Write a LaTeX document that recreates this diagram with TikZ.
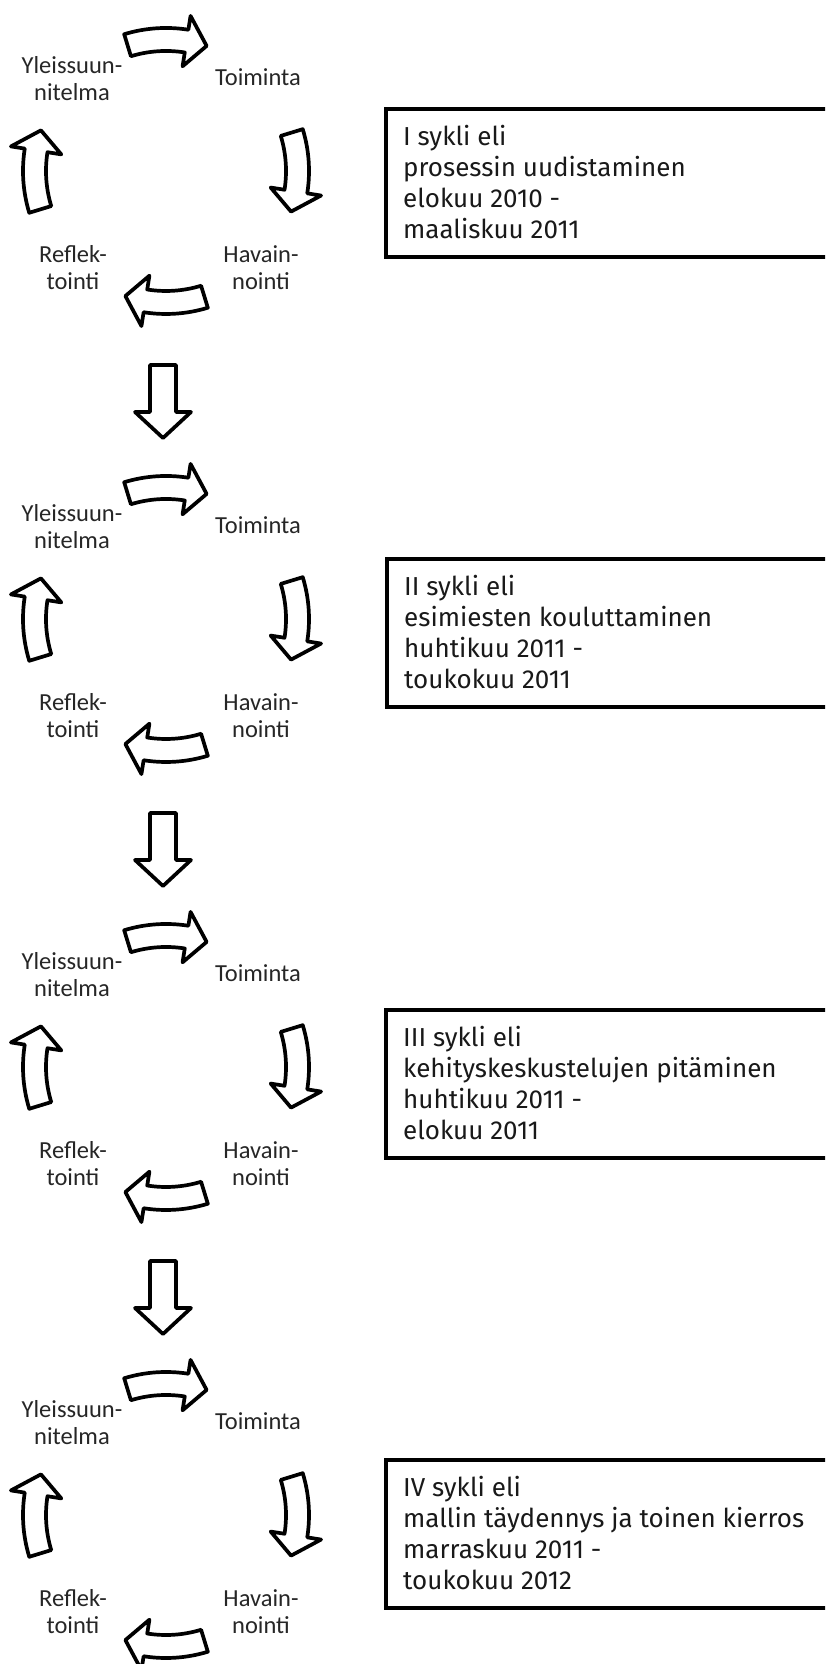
\documentclass[tikz,border=0pt]{standalone}
\usepackage{fontspec}
\setmainfont{Carlito}
\newfontfamily\boxfont{Fira Sans}
\begin{document}
\begin{tikzpicture}[x=1pt,y=1pt,
  blockline/.style={draw=black, line width=3.7pt, fill=white, line join=round},
  phase/.style={align=center, inner sep=0pt, text=black!85,
    font=\fontsize{24.5}{27}\selectfont},
  cyclebox/.style={draw=black, line width=3.7pt, fill=white, inner sep=0pt,
    minimum width=470pt, minimum height=148pt, anchor=north west},
  boxtext/.style={align=left, inner sep=0pt, anchor=base west, text=black!90,
    font=\boxfont\fontsize{26}{31}\selectfont},
  cyclearrow/.pic={
    \draw[blockline] (107:120) arc[start angle=107, end angle=81, radius=120]
      -- (81:106) -- (72:131.5) -- (81:157) -- (81:143)
      arc[start angle=81, end angle=107, radius=143] -- cycle;
  }
]
\path[use as bounding box, clip] (0,0) rectangle (825,1664);

% four action-research cycles, stacked top to bottom
% (multi-line nodes are placed by the baseline of their last line)
\foreach \k/\cy in {1/1493, 2/1045, 3/597, 4/149} {
  \begin{scope}[shift={(166,\cy)}]
    \pic (top\k) at (0,0) {cyclearrow};
    \pic[rotate=-90] (right\k) at (0,0) {cyclearrow};
    \pic[rotate=-180] (bottom\k) at (0,0) {cyclearrow};
    \pic[rotate=-270] (left\k) at (0,0) {cyclearrow};
    \node[phase, anchor=base] (plan\k) at (-94,70) {Yleissuun-\\nitelma};
    \node[phase, anchor=base] (act\k) at (92,85) {Toiminta};
    \node[phase, anchor=base] (obs\k) at (95,-119) {Havain-\\nointi};
    \node[phase, anchor=base] (refl\k) at (-93,-119) {Reflek-\\tointi};
  \end{scope}
}

% arrows leading from one cycle to the next
\foreach \cy in {1493, 1045, 597} {
  \begin{scope}[shift={(163,\cy)}]
    \draw[blockline] (-13,-194) -- (13,-194) -- (13,-241) -- (28,-241)
      -- (0,-267) -- (-28,-241) -- (-13,-241) -- cycle;
  \end{scope}
}

% cycle descriptions
\node[cyclebox] (box1) at (384,1557) {};
\node[boxtext] (text1) at ([shift={(19,-132)}]box1.north west)
  {I sykli eli\\prosessin uudistaminen\\elokuu 2010 -\\maaliskuu 2011};
\node[cyclebox] (box2) at (385,1107) {};
\node[boxtext] (text2) at ([shift={(19,-132)}]box2.north west)
  {II sykli eli\\esimiesten kouluttaminen\\huhtikuu 2011 -\\toukokuu 2011};
\node[cyclebox] (box3) at (384,656) {};
\node[boxtext] (text3) at ([shift={(19,-132)}]box3.north west)
  {III sykli eli\\kehityskeskustelujen pitäminen\\huhtikuu 2011 -\\elokuu 2011};
\node[cyclebox] (box4) at (384,206) {};
\node[boxtext] (text4) at ([shift={(19,-132)}]box4.north west)
  {IV sykli eli\\mallin täydennys ja toinen kierros\\marraskuu 2011 -\\toukokuu 2012};
\end{tikzpicture}
\end{document}
